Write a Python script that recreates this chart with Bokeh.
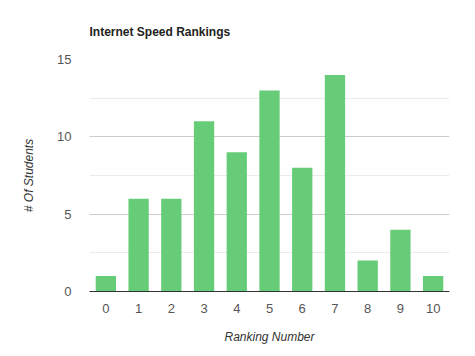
from bokeh.plotting import figure
from bokeh.models import SingleIntervalTicker, Range1d
from bokeh.embed import file_html
from bokeh.resources import INLINE

rankings = ["0", "1", "2", "3", "4", "5", "6", "7", "8", "9", "10"]
students = [1, 6, 6, 11, 9, 13, 8, 14, 2, 4, 1]

FONT = "Liberation Sans"

p = figure(width=475, height=356, x_range=rankings, y_range=Range1d(0, 15),
           output_backend="svg", toolbar_location=None,
           min_border_left=89, min_border_right=26, min_border_top=59, min_border_bottom=65)

p.vbar(x=rankings, top=students, width=0.62, color="#66CC77", line_color=None)

p.title.text = "Internet Speed Rankings"
p.title.text_font = FONT
p.title.text_font_size = "12px"
p.title.text_color = "#222222"
p.title.text_font_style = "bold"
p.title.align = "left"
p.title.offset = 0
p.title.standoff = 42

p.outline_line_color = None
p.xgrid.grid_line_color = None
p.yaxis.ticker = SingleIntervalTicker(interval=5, num_minor_ticks=2)
p.ygrid.grid_line_color = "#cccccc"
p.ygrid.minor_grid_line_color = "#ebebeb"

p.yaxis.axis_line_color = None
p.yaxis.major_tick_line_color = None
p.yaxis.minor_tick_line_color = None
p.yaxis.major_label_text_font = FONT
p.yaxis.major_label_text_font_size = "13px"
p.yaxis.major_label_text_color = "#555555"
p.yaxis.major_label_standoff = 12
p.yaxis.axis_label = "# Of Students"
p.yaxis.axis_label_text_font = FONT
p.yaxis.axis_label_text_font_size = "12px"
p.yaxis.axis_label_text_font_style = "italic"
p.yaxis.axis_label_text_color = "#333333"
p.yaxis.axis_label_standoff = 18

p.xaxis.axis_line_color = "#333333"
p.xaxis.axis_line_width = 1
p.xaxis.major_tick_line_color = None
p.xaxis.minor_tick_line_color = None
p.xaxis.major_label_text_font = FONT
p.xaxis.major_label_text_font_size = "13px"
p.xaxis.major_label_text_color = "#555555"
p.xaxis.major_label_standoff = 6
p.xaxis.axis_label = "Ranking Number"
p.xaxis.axis_label_text_font = FONT
p.xaxis.axis_label_text_font_size = "12px"
p.xaxis.axis_label_text_font_style = "italic"
p.xaxis.axis_label_text_color = "#333333"
p.xaxis.axis_label_standoff = 14

open("out.html", "w").write(file_html(p, INLINE))
